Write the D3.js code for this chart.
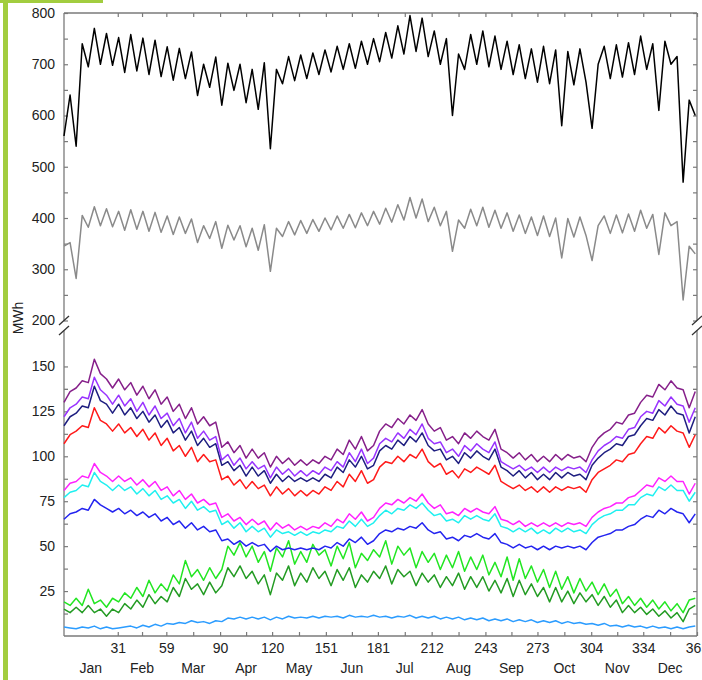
<!DOCTYPE html>
<html>
<head>
    <meta charset="utf-8">
    <script src="https://cdn.jsdelivr.net/npm/d3@7"></script>
    <style>
        * {
            margin: 0;
            padding: 0;
        }

        body {
            background: #fff;
        }

        svg {
            display: block;
            font-family: "Liberation Sans", Arial, sans-serif;
        }
    </style>
</head>
<body>
    <svg id="chart" width="702" height="680"></svg>
    <script>
        // one value every half week (3.5 days), day 0 .. 364
        var dayStep = 3.5;
        var monthNames = ["Jan", "Feb", "Mar", "Apr", "May", "Jun", "Jul", "Aug", "Sep", "Oct", "Nov", "Dec"];
        var monthEnds = [0, 31, 59, 90, 120, 151, 181, 212, 243, 273, 304, 334, 365];
        var upperTicks = [200, 300, 400, 500, 600, 700, 800];
        var lowerTicks = [25, 50, 75, 100, 125, 150];

        var lineBlack = [560,640,540,740,695,770,700,760,698,752,
            684,758,687,751,680,747,676,734,669,731,
            672,724,639,700,655,714,620,702,649,700,
            625,690,612,703,535,690,662,715,668,718,
            672,722,680,728,685,735,690,740,692,745,
            700,750,705,762,712,775,720,795,725,790,
            715,765,700,750,600,720,690,758,700,765,
            695,755,690,745,680,738,672,730,665,735,
            662,728,580,725,660,730,665,575,700,735,
            672,738,675,742,680,755,690,740,610,745,
            700,715,470,630,600];

        var lineGray = [345,352,282,405,382,422,385,418,383,413,
            376,416,378,413,374,411,372,404,368,402,
            370,398,352,385,360,393,341,386,357,385,
            344,380,337,387,296,380,364,393,367,395,
            370,397,374,400,377,404,380,407,381,410,
            385,413,388,419,392,426,396,440,400,437,
            393,421,385,413,335,396,380,417,385,421,
            382,415,380,410,374,406,370,402,366,404,
            364,400,322,399,363,402,366,317,385,404,
            370,406,371,408,374,415,380,407,329,410,
            385,393,240,345,330];

        var linePurple = [130,136,138,142,141,154,146,143,138,143,
            137,141,134,139,132,137,129,133,125,129,
            121,127,118,122,117,119,105,108,102,106,
            99,104,99,102,94,100,96,99,95,98,
            95,98,96,100,98,104,101,109,104,111,
            103,106,114,118,116,121,118,123,120,126,
            118,114,116,109,111,107,113,110,114,111,
            109,115,104,102,99,102,98,101,97,100,
            97,101,98,101,99,100,97,105,110,113,
            115,119,118,123,124,130,134,133,140,137,
            142,138,137,127,136];

        var lineViolet = [122,127,129,133,132,144,137,134,129,134,
            128,132,125,130,123,128,121,124,117,121,
            113,119,110,114,109,111,98,101,95,99,
            93,97,93,95,88,94,90,93,89,92,
            89,92,90,94,92,97,94,102,97,104,
            96,99,107,110,108,113,110,115,112,118,
            110,107,108,102,104,100,106,103,107,104,
            102,108,97,95,93,95,92,94,91,94,
            91,94,92,94,93,94,91,98,103,106,
            108,111,110,115,116,122,125,124,131,128,
            133,129,128,119,127];

        var lineNavy = [117,122,124,128,127,139,131,129,124,129,
            123,127,121,125,119,123,116,120,113,116,
            109,114,106,110,105,107,95,97,92,95,
            89,94,89,92,85,90,86,89,86,88,
            86,88,86,90,88,94,91,98,94,100,
            93,95,103,106,104,109,106,111,108,113,
            106,103,104,98,100,96,102,99,103,100,
            98,104,94,92,89,92,88,91,87,90,
            87,91,88,91,89,90,87,95,99,102,
            104,107,106,111,112,117,121,120,126,123,
            128,124,123,113,122];

        var lineRed = [107,112,114,117,116,127,120,118,114,118,
            113,116,111,115,109,113,106,110,103,106,
            100,105,97,101,97,98,87,89,84,87,
            82,86,82,84,78,83,79,82,78,81,
            78,81,79,83,81,86,83,90,86,92,
            85,87,94,97,96,100,97,101,99,104,
            97,94,96,90,92,88,93,91,94,92,
            90,95,86,84,82,84,81,83,80,83,
            80,83,81,83,82,83,80,87,91,93,
            95,98,97,101,102,107,111,110,116,113,
            117,114,113,105,112];

        var lineMagenta = [81,85,86,89,88,96,91,89,86,89,
            86,88,84,87,83,86,81,83,78,81,
            76,79,74,76,73,74,66,68,64,66,
            62,65,62,64,59,63,60,62,59,61,
            59,61,60,63,61,65,63,68,65,69,
            64,66,71,74,73,76,74,77,75,79,
            74,71,73,68,69,67,71,69,71,69,
            68,72,65,64,62,64,61,63,61,63,
            61,63,61,63,62,63,61,66,69,71,
            72,74,74,77,78,81,84,83,88,86,
            89,86,86,79,85];

        var lineCyan = [77,80,81,84,83,91,86,84,81,84,
            81,83,79,82,78,81,76,78,74,76,
            71,75,70,72,69,70,62,64,60,63,
            58,61,58,60,55,59,57,58,56,58,
            56,58,57,59,58,61,60,64,61,65,
            61,63,67,70,68,71,70,73,71,74,
            70,67,68,64,65,63,67,65,67,65,
            64,68,61,60,58,60,58,60,57,59,
            57,60,58,60,58,59,57,62,65,67,
            68,70,70,73,73,77,79,78,83,81,
            84,81,81,75,80];

        var lineBlue = [65,68,69,71,70,76,73,71,69,71,
            68,70,67,69,66,68,64,66,62,64,
            60,63,59,61,58,59,53,54,51,53,
            50,52,50,51,47,50,48,49,48,49,
            48,49,48,50,49,52,50,54,52,55,
            51,53,57,59,58,60,59,61,60,63,
            59,57,58,54,55,53,56,55,57,55,
            54,57,52,51,49,51,49,50,48,50,
            48,50,49,50,49,50,48,52,55,56,
            57,59,59,61,62,65,67,66,70,68,
            71,69,68,63,68];

        var lineGreen = [19,17,21,17,26,18,20,16,21,19,
            24,21,27,22,31,24,29,25,34,29,
            42,33,37,31,38,32,37,50,45,52,
            44,50,41,47,36,49,44,53,40,47,
            41,51,45,48,39,50,43,52,38,46,
            42,48,44,53,40,50,45,49,38,47,
            41,46,37,45,38,47,36,44,37,45,
            34,41,33,44,31,43,32,39,30,37,
            27,36,26,33,24,32,25,30,23,29,
            22,26,18,22,17,21,16,20,15,19,
            14,18,13,20,21];

        var lineDarkGreen = [15,13,16,13,17,13,15,11,15,13,
            18,15,20,16,23,18,22,19,27,22,
            32,26,29,23,30,24,28,38,33,39,
            32,36,29,34,23,35,31,39,28,35,
            30,38,32,36,28,37,31,38,27,34,
            30,36,32,39,29,37,33,36,28,35,
            30,34,27,33,28,35,26,33,27,33,
            25,31,24,32,22,31,23,29,22,27,
            19,27,19,25,18,24,19,23,17,22,
            16,20,13,17,13,16,12,15,11,14,
            10,13,8,15,17];

        var lineSky = [5,4.5,4,5,4.5,5.5,4,5,4,4.5,
            5,5.5,4.5,6,5,6.5,5.5,7,6.5,7.5,
            7,8.5,7.5,8,7,8.5,8,10,9.5,10.5,
            9.5,10.5,9.5,10.5,9,10.5,9.5,11,10,10.5,
            10,11,10,11,10.5,11,10,11.5,10.5,11,
            10.5,11.5,10.5,11,10,11,10.5,11.5,10,11,
            10,11,9.5,10.5,9.5,10.5,9,10,9,10,
            8.5,9.5,8.5,9.5,8,9,8,9,7.5,8.5,
            7.5,8.5,7,8,7,7.5,6.5,7,6,7,
            5.5,6,5,6,5,5.5,4.5,5.5,4.5,5,
            4,5,4,5,5.5];

        var plotLeft = 64, plotRight = 697, plotTop = 13, plotBottom = 636;
        var breakTop = 320.5, breakBottom = 330.5;
        var axisColor = "#7a7a7a";

        var svg = d3.select("#chart");

        // green page decoration
        svg.append("rect").attr("x", 0).attr("y", 0).attr("width", 103).attr("height", 3).attr("fill", "#a2cd3f");
        svg.append("rect").attr("x", 3).attr("y", 0).attr("width", 5).attr("height", 680).attr("fill", "#a2cd3f");

        var x = d3.scaleLinear().domain([0, 365]).range([plotLeft, plotRight]);
        var yTop = d3.scaleLinear().domain([200, 800]).range([breakTop, plotTop]);
        var yBot = d3.scaleLinear().domain([0, 170]).range([plotBottom, breakBottom]);

        var majorDays = monthEnds.slice(1);
        var minorDays = [];
        for (var i = 1; i < monthEnds.length - 1; i++) {
            minorDays.push((monthEnds[i] + monthEnds[i + 1]) / 2);
        }
        var upperMinor = upperTicks.slice(0, -1).map(function (v) { return v + 50; });
        var lowerMinor = [12.5].concat(lowerTicks.map(function (v) { return v - 12.5; }).slice(1)).concat([137.5]);

        function styleAxis(g) {
            g.select(".domain").remove();
            g.selectAll(".tick line").attr("stroke", axisColor).attr("stroke-width", 1.2);
            g.selectAll(".tick text").attr("fill", "#222").style("font-size", "14px");
        }

        // left axes
        svg.append("g").attr("transform", "translate(" + plotLeft + ",0)")
            .call(d3.axisLeft(yTop).tickValues(upperTicks).tickSize(-4).tickPadding(9).tickSizeOuter(0))
            .call(styleAxis);
        svg.append("g").attr("transform", "translate(" + plotLeft + ",0)")
            .call(d3.axisLeft(yTop).tickValues(upperMinor).tickSize(-4).tickFormat("").tickSizeOuter(0))
            .call(styleAxis);
        svg.append("g").attr("transform", "translate(" + plotLeft + ",0)")
            .call(d3.axisLeft(yBot).tickValues(lowerTicks).tickSize(-4).tickPadding(9).tickSizeOuter(0))
            .call(styleAxis);
        svg.append("g").attr("transform", "translate(" + plotLeft + ",0)")
            .call(d3.axisLeft(yBot).tickValues(lowerMinor).tickSize(-4).tickFormat("").tickSizeOuter(0))
            .call(styleAxis);

        // right axes (ticks only)
        [[yTop, upperTicks.concat(upperMinor)], [yBot, lowerTicks.concat(lowerMinor)]].forEach(function (p) {
            svg.append("g").attr("transform", "translate(" + plotRight + ",0)")
                .call(d3.axisRight(p[0]).tickValues(p[1]).tickSize(-4).tickFormat("").tickSizeOuter(0))
                .call(styleAxis);
        });

        // bottom + top axes
        svg.append("g").attr("transform", "translate(0," + plotBottom + ")")
            .call(d3.axisBottom(x).tickValues(majorDays).tickSize(-4).tickPadding(7).tickSizeOuter(0))
            .call(styleAxis);
        svg.append("g").attr("transform", "translate(0," + plotBottom + ")")
            .call(d3.axisBottom(x).tickValues(minorDays).tickSize(-4).tickFormat("").tickSizeOuter(0))
            .call(styleAxis);
        svg.append("g").attr("transform", "translate(0," + plotTop + ")")
            .call(d3.axisTop(x).tickValues(majorDays.concat(minorDays)).tickSize(-4).tickFormat("").tickSizeOuter(0))
            .call(styleAxis);

        // month names
        svg.append("g").selectAll("text").data(monthNames).enter()
            .append("text")
            .attr("x", function (d, i) { return x((monthEnds[i] + monthEnds[i + 1]) / 2); })
            .attr("y", 673)
            .attr("text-anchor", "middle")
            .style("font-size", "14px")
            .attr("fill", "#222")
            .text(function (d) { return d; });

        // frame with axis break
        var frame = svg.append("g").attr("stroke", axisColor).attr("stroke-width", 1.3).attr("fill", "none");
        frame.append("line").attr("x1", plotLeft).attr("x2", plotRight).attr("y1", plotTop).attr("y2", plotTop);
        frame.append("line").attr("x1", plotLeft).attr("x2", plotRight).attr("y1", plotBottom).attr("y2", plotBottom);
        [plotLeft, plotRight].forEach(function (xx) {
            frame.append("line").attr("x1", xx).attr("x2", xx).attr("y1", plotTop).attr("y2", breakTop);
            frame.append("line").attr("x1", xx).attr("x2", xx).attr("y1", breakBottom).attr("y2", plotBottom);
            [breakTop, breakBottom].forEach(function (yy) {
                frame.append("line")
                    .attr("x1", xx - 5).attr("y1", yy + 4.5)
                    .attr("x2", xx + 5).attr("y2", yy - 4.5)
                    .attr("stroke", "#333");
            });
        });

        // y label
        svg.append("text")
            .attr("transform", "translate(23,318) rotate(-90)")
            .attr("text-anchor", "middle")
            .style("font-size", "14px")
            .attr("fill", "#222")
            .text("MWh");

        var series = [
            { values: lineSky, color: "#2b9cff", scale: yBot },
            { values: lineDarkGreen, color: "#239b23", scale: yBot },
            { values: lineGreen, color: "#22e622", scale: yBot },
            { values: lineBlue, color: "#2424f0", scale: yBot },
            { values: lineCyan, color: "#1ff0f0", scale: yBot },
            { values: lineMagenta, color: "#ff22ff", scale: yBot },
            { values: lineRed, color: "#ff1a1a", scale: yBot },
            { values: lineNavy, color: "#1e1e80", scale: yBot },
            { values: lineViolet, color: "#9933ff", scale: yBot },
            { values: linePurple, color: "#86208a", scale: yBot },
            { values: lineGray, color: "#8a8a8a", scale: yTop },
            { values: lineBlack, color: "#000000", scale: yTop }
        ];

        series.forEach(function (s) {
            var line = d3.line()
                .x(function (d, i) { return x(i * dayStep); })
                .y(function (d) { return s.scale(d); });
            svg.append("path")
                .datum(s.values)
                .attr("d", line)
                .attr("fill", "none")
                .attr("stroke", s.color)
                .attr("stroke-width", 1.5)
                .attr("stroke-linejoin", "round");
        });
    </script>
</body>
</html>
